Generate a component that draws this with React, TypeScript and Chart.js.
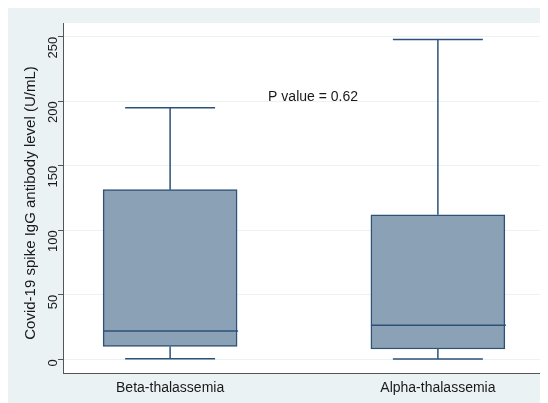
import React, { useEffect, useRef } from "react";
import { Chart, registerables } from "chart.js";

Chart.register(...registerables);

const categories = ["Beta-thalassemia", "Alpha-thalassemia"];
const positions = [1, 2];
const whiskerLow = [0.5, 0.3];
const q1 = [10, 8];
const median = [22, 26.5];
const q3 = [131.5, 112];
const whiskerHigh = [195, 248];
const yTicks = [0, 50, 100, 150, 200, 250];
const yTitle = "Covid-19 spike IgG antibody level (U/mL)";
const annotationText = "P value = 0.62";
const annotationPos = { x: 1.366, y: 203 };

const FONT = "'Liberation Sans', Arial, Helvetica, sans-serif";
const BG = "rgb(234,242,243)";
const FILL = "rgb(139,161,182)";
const EDGE = "rgb(45,82,120)";
const AXIS = "rgb(85,85,85)";

const boxPlugin = {
  id: "boxExtras",
  beforeDraw(chart: any) {
    const { ctx, chartArea } = chart;
    ctx.save();
    ctx.fillStyle = BG;
    ctx.fillRect(0, 0, chart.width, chart.height);
    ctx.fillStyle = "#ffffff";
    ctx.fillRect(chartArea.left, chartArea.top, chartArea.right - chartArea.left, chartArea.bottom - chartArea.top);
    ctx.restore();
  },
  afterDatasetsDraw(chart: any) {
    const { ctx, chartArea } = chart;
    const xs = chart.scales.x;
    const ys = chart.scales.y;
    const unit = xs.getPixelForValue(2) - xs.getPixelForValue(1);
    const boxHalf = 67;
    const capHalf = unit * 0.168;
    ctx.save();
    ctx.strokeStyle = EDGE;
    ctx.lineWidth = 1.5;
    positions.forEach((p, i) => {
      const cx = xs.getPixelForValue(p);
      const yLo = ys.getPixelForValue(whiskerLow[i]);
      const yQ1 = ys.getPixelForValue(q1[i]);
      const yQ3 = ys.getPixelForValue(q3[i]);
      const yHi = ys.getPixelForValue(whiskerHigh[i]);
      const yMed = ys.getPixelForValue(median[i]);
      ctx.beginPath();
      ctx.moveTo(cx, yQ3);
      ctx.lineTo(cx, yHi);
      ctx.moveTo(cx - capHalf, yHi);
      ctx.lineTo(cx + capHalf, yHi);
      ctx.moveTo(cx, yQ1);
      ctx.lineTo(cx, yLo);
      ctx.moveTo(cx - capHalf, yLo);
      ctx.lineTo(cx + capHalf, yLo);
      ctx.moveTo(cx - boxHalf, yMed);
      ctx.lineTo(cx + boxHalf + 1, yMed);
      ctx.stroke();
    });
    ctx.fillStyle = "#1a1a1a";
    ctx.font = `14px ${FONT}`;
    ctx.textAlign = "left";
    ctx.textBaseline = "middle";
    ctx.fillText(annotationText, xs.getPixelForValue(annotationPos.x), ys.getPixelForValue(annotationPos.y));
    // y-axis title
    ctx.translate(23, (chartArea.top + chartArea.bottom) / 2 + 5);
    ctx.rotate(-Math.PI / 2);
    ctx.font = `15px ${FONT}`;
    ctx.textAlign = "center";
    ctx.fillText(yTitle, 0, 0);
    ctx.restore();
  },
};

export default function App() {
  const ref = useRef<HTMLCanvasElement>(null);
  useEffect(() => {
    document.documentElement.style.overflow = "hidden";
    const chart = new Chart(ref.current as HTMLCanvasElement, {
      type: "bar",
      data: {
        datasets: [
          {
            data: positions.map((p, i) => ({ x: p, y: [q1[i], q3[i]] })) as any,
            backgroundColor: FILL,
            borderColor: EDGE,
            borderWidth: 1.5,
            borderSkipped: false,
            barThickness: 134,
          },
        ],
      },
      options: {
        animation: false,
        responsive: false,
        devicePixelRatio: 1,
        layout: { padding: { top: 15, right: 3, left: 0, bottom: 0 } },
        plugins: { legend: { display: false }, tooltip: { enabled: false } },
        scales: {
          x: {
            type: "linear",
            min: 0.6,
            max: 2.4,
            offset: false,
            afterBuildTicks: (s: any) => {
              s.ticks = positions.map((v) => ({ value: v }));
            },
            afterFit: (s: any) => {
              s.height = 30;
            },
            grid: { display: false, drawTicks: false, offset: false },
            border: { display: true, color: AXIS, width: 1 },
            ticks: {
              padding: 7,
              color: "#1a1a1a",
              font: { family: FONT, size: 14 },
              maxRotation: 0,
              minRotation: 0,
              callback: (v: any) => categories[positions.indexOf(Number(v))] ?? "",
            },
          },
          y: {
            type: "linear",
            min: -10.6,
            max: 260.7,
            afterBuildTicks: (s: any) => {
              s.ticks = yTicks.map((v) => ({ value: v }));
            },
            afterFit: (s: any) => {
              s.width = 55;
            },
            grid: { color: BG, lineWidth: 1, tickLength: 5, tickColor: AXIS, drawTicks: true },
            border: { display: true, color: AXIS, width: 1 },
            ticks: {
              padding: 5,
              color: "#1a1a1a",
              font: { family: FONT, size: 13 },
              minRotation: 90,
              maxRotation: 90,
            },
            title: { display: false },
          },
        },
      },
      plugins: [boxPlugin],
    });
    return () => chart.destroy();
  }, []);
  return <canvas ref={ref} width={540} height={395} style={{ display: "block", width: 540, height: 395 }} />;
}
